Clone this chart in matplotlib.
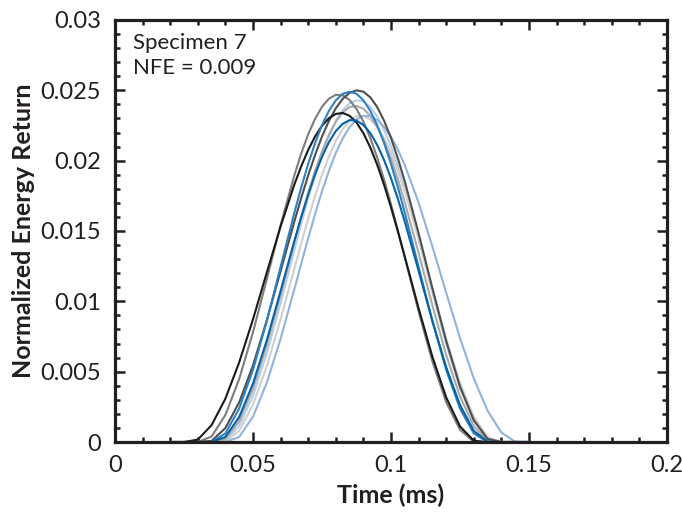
import matplotlib
matplotlib.use("Agg")
import matplotlib.pyplot as plt
from matplotlib.ticker import MultipleLocator

plt.rcParams['font.family'] = ['Lato', 'DejaVu Sans']

# time samples (ms), denser round the peaks
time_ms = [0.020, 0.025, 0.030, 0.035, 0.040, 0.045, 0.050, 0.055, 0.060,
           0.065, 0.0675, 0.070, 0.0725, 0.075, 0.0775, 0.080, 0.0825,
           0.085, 0.0875, 0.090, 0.0925, 0.095, 0.0975, 0.100, 0.1025,
           0.105, 0.110, 0.115, 0.120, 0.125, 0.130, 0.135, 0.140, 0.145,
           0.150]

# normalized energy return, one list per test
run_gray = [0, 0, 0, 0.00039, 0.00192, 0.00448, 0.00780, 0.01157, 0.01542,
            0.01897, 0.02052, 0.02187, 0.02298, 0.02383, 0.02440, 0.02468,
            0.02465, 0.02431, 0.02368, 0.02278, 0.02161, 0.02022, 0.01864,
            0.01690, 0.01504, 0.01313, 0.00928, 0.00573, 0.00283, 0.00087,
            0.00002, 0, 0, 0, 0]
run_darkgray = [0, 0, 0, 0.00008, 0.00099, 0.00282, 0.00545, 0.00864,
                0.01214, 0.01568, 0.01736, 0.01895, 0.02041, 0.02171,
                0.02282, 0.02372, 0.02439, 0.02482, 0.02500, 0.02490,
                0.02450, 0.02381, 0.02284, 0.02161, 0.02016, 0.01852,
                0.01484, 0.01093, 0.00718, 0.00394, 0.00155, 0.00022,
                0, 0, 0]
run_midblue = [0, 0, 0, 0, 0.00061, 0.00238, 0.00513, 0.00860, 0.01245,
               0.01630, 0.01810, 0.01977, 0.02125, 0.02252, 0.02354,
               0.02429, 0.02475, 0.02490, 0.02475, 0.02429, 0.02354,
               0.02252, 0.02125, 0.01977, 0.01810, 0.01630, 0.01245,
               0.00860, 0.00513, 0.00238, 0.00061, 0, 0, 0, 0]
run_black = [0, 0, 0.00017, 0.00120, 0.00308, 0.00566, 0.00872, 0.01204,
             0.01532, 0.01831, 0.01961, 0.02076, 0.02172, 0.02248, 0.02302,
             0.02332, 0.02339, 0.02319, 0.02271, 0.02195, 0.02094, 0.01971,
             0.01828, 0.01668, 0.01496, 0.01317, 0.00951, 0.00606, 0.00317,
             0.00111, 0.00009, 0, 0, 0, 0]
run_darkblue = [0, 0, 0, 0, 0.00036, 0.00178, 0.00415, 0.00723, 0.01073,
                0.01430, 0.01600, 0.01758, 0.01902, 0.02027, 0.02131,
                0.02210, 0.02262, 0.02288, 0.02285, 0.02254, 0.02196,
                0.02112, 0.02004, 0.01875, 0.01728, 0.01567, 0.01217,
                0.00860, 0.00532, 0.00263, 0.00080, 0.00002, 0, 0, 0]
run_lightgray = [0, 0, 0, 0, 0.00002, 0.00081, 0.00266, 0.00538, 0.00872,
                 0.01233, 0.01413, 0.01587, 0.01750, 0.01899, 0.02030,
                 0.02140, 0.02225, 0.02284, 0.02315, 0.02318, 0.02292,
                 0.02239, 0.02158, 0.02054, 0.01927, 0.01782, 0.01448,
                 0.01087, 0.00733, 0.00421, 0.00180, 0.00036, 0, 0, 0]
run_silver = [0, 0, 0, 0, 0.00021, 0.00148, 0.00377, 0.00686, 0.01045,
              0.01419, 0.01600, 0.01771, 0.01927, 0.02066, 0.02183, 0.02276,
              0.02343, 0.02381, 0.02389, 0.02369, 0.02319, 0.02242, 0.02139,
              0.02013, 0.01867, 0.01704, 0.01345, 0.00971, 0.00619, 0.00324,
              0.00114, 0.00009, 0, 0, 0]
run_lightblue = [0, 0, 0, 0, 0, 0.00036, 0.00180, 0.00421, 0.00733, 0.01087,
                 0.01269, 0.01448, 0.01621, 0.01782, 0.01927, 0.02054,
                 0.02158, 0.02239, 0.02292, 0.02318, 0.02316, 0.02290,
                 0.02241, 0.02170, 0.02079, 0.01968, 0.01702, 0.01390,
                 0.01061, 0.00739, 0.00452, 0.00222, 0.00067, 0.00002, 0]
run_paleblue = [0, 0, 0, 0, 0.00009, 0.00116, 0.00329, 0.00630, 0.00987,
                0.01367, 0.01554, 0.01732, 0.01898, 0.02047, 0.02175,
                0.02280, 0.02358, 0.02408, 0.02429, 0.02421, 0.02382,
                0.02314, 0.02220, 0.02101, 0.01960, 0.01800, 0.01443,
                0.01063, 0.00698, 0.00383, 0.00150, 0.00022, 0, 0, 0]

runs = [
    (run_paleblue, '#b7cde6'),
    (run_lightgray, '#cfcfcf'),
    (run_silver, '#a9a9a9'),
    (run_lightblue, '#8fb3dc'),
    (run_gray, '#7d7d7d'),
    (run_darkgray, '#4e4e4e'),
    (run_black, '#1a1a1a'),
    (run_midblue, '#2f80c2'),
    (run_darkblue, '#0563a5'),
]

xticks = [0, 0.05, 0.1, 0.15, 0.2]
xticklabels = ['0', '0.05', '0.1', '0.15', '0.2']
yticks = [0, 0.005, 0.01, 0.015, 0.02, 0.025, 0.03]
yticklabels = ['0', '0.005', '0.01', '0.015', '0.02', '0.025', '0.03']

fig = plt.figure(figsize=(6.82, 5.12), dpi=100)
ax = fig.add_axes([0.1686, 0.1367, 0.8094, 0.8243])

for vals, col in runs:
    ax.plot(time_ms, vals, color=col, lw=1.5, solid_joinstyle='round')

ax.set_xlim(0, 0.2)
ax.set_ylim(0, 0.03)
ax.set_xticks(xticks, xticklabels)
ax.set_yticks(yticks, yticklabels)
ax.xaxis.set_minor_locator(MultipleLocator(0.01))
ax.yaxis.set_minor_locator(MultipleLocator(0.001))
ax.tick_params(which='both', direction='in', top=True, right=True,
               width=1.8, color='#231f20', labelsize=17, labelcolor='#231f20')
ax.tick_params(which='major', length=7)
ax.tick_params(which='minor', length=3.5)
ax.tick_params(axis='y', which='major', pad=10)
ax.tick_params(axis='x', which='major', pad=9)
for sp in ax.spines.values():
    sp.set_linewidth(2.3)
    sp.set_color('#231f20')

ax.set_xlabel('Time (ms)', fontsize=18, fontweight='bold', color='#231f20',
              labelpad=6)
ax.set_ylabel('Normalized Energy Return', fontsize=18, fontweight='bold',
              color='#231f20', labelpad=4)

ax.text(0.033, 0.968, 'Specimen 7\nNFE = 0.009', transform=ax.transAxes,
        fontsize=16, va='top', ha='left', color='#231f20', linespacing=1.3)

fig.savefig('out.png', dpi=100)
